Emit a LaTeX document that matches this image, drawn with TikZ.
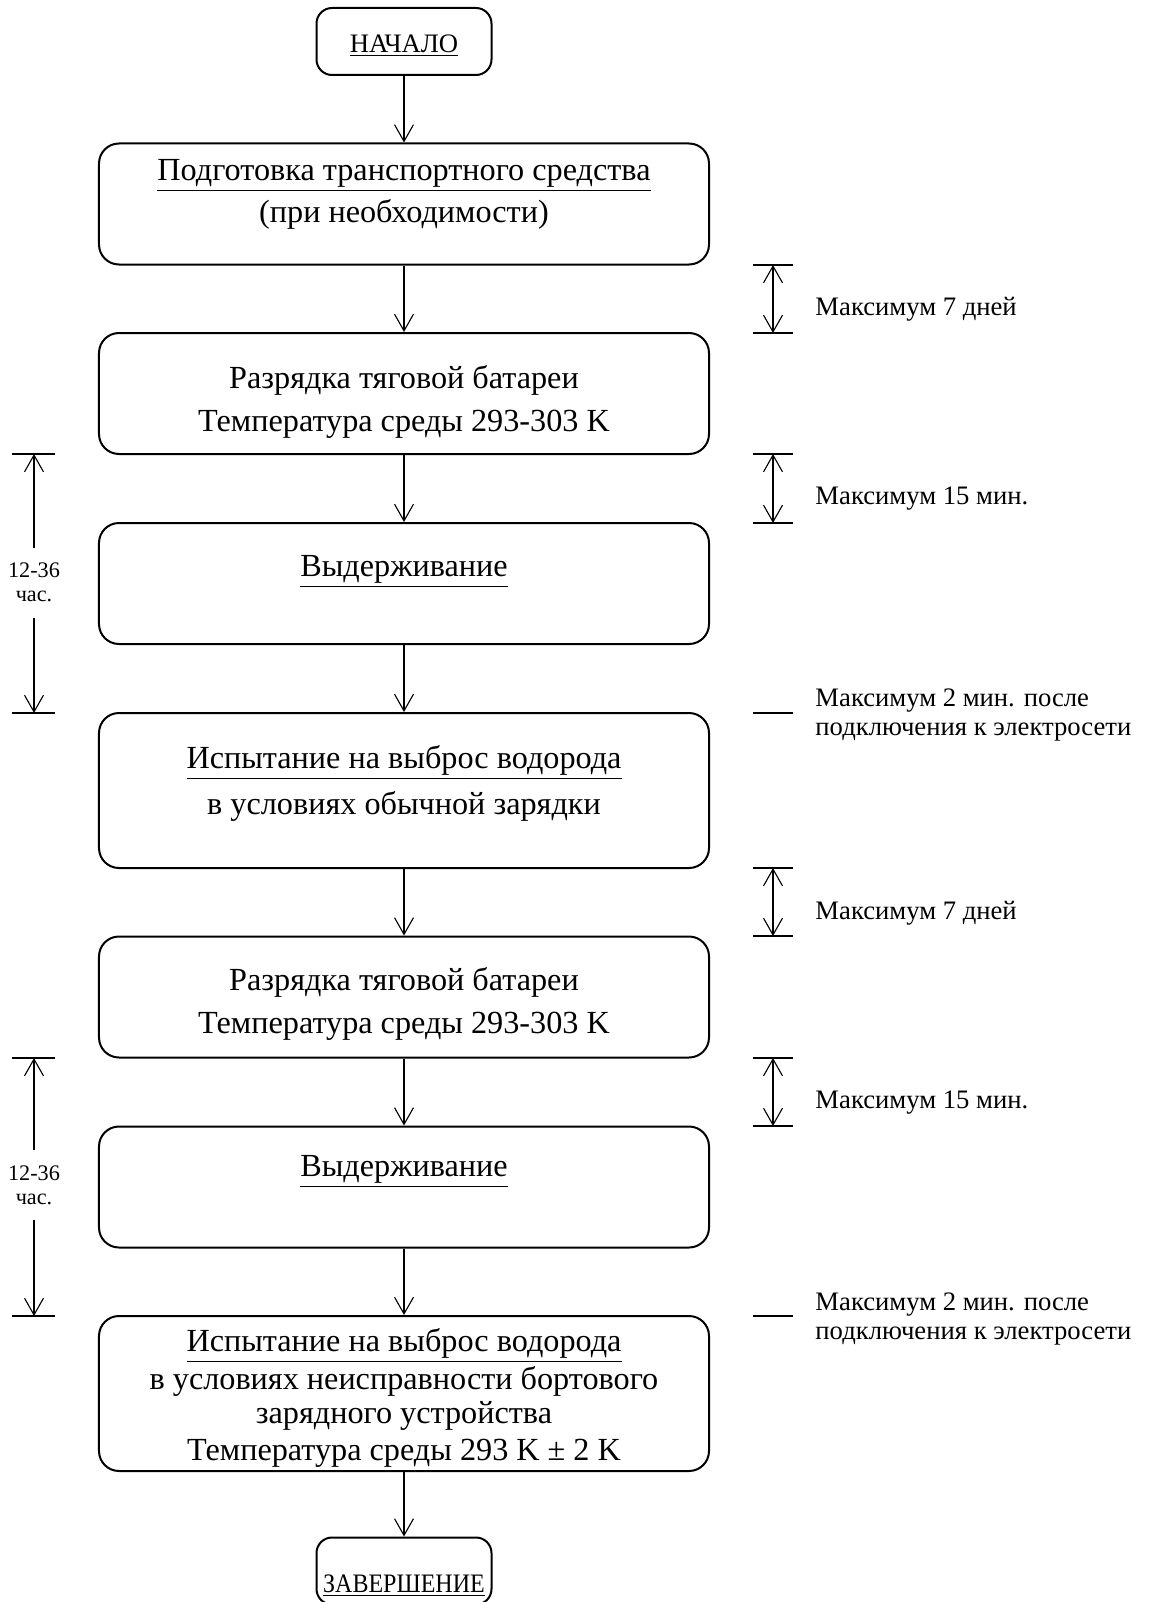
\documentclass[tikz,border=0pt]{standalone}
\usepackage{fontspec}
\setmainfont{Liberation Serif}
\usetikzlibrary{arrows.meta}
\begin{document}
\begin{tikzpicture}[x=0.45pt,y=-0.45pt,
  box/.style={draw, line width=0.9pt, rounded corners=9pt, minimum width=274.5pt, minimum height=54.45pt, inner sep=0pt},
  bigbox/.style={box, minimum height=69.75pt},
  endbox/.style={draw, line width=0.9pt, rounded corners=7pt, minimum width=78.75pt, minimum height=30.15pt, inner sep=0pt},
  maintxt/.style={inner sep=0pt, font=\fontsize{14.5}{17}\selectfont},
  endtxt/.style={inner sep=0pt, font=\fontsize{12}{14}\selectfont},
  sidetxt/.style={inner sep=0pt, anchor=west, font=\fontsize{12}{14}\selectfont},
  lefttxt/.style={inner sep=0pt, font=\fontsize{10}{12}\selectfont},
  arr/.style={line width=0.5pt, -{Straight Barb[length=7.5pt,width=8.5pt]}},
  dim/.style={line width=0.5pt, {Straight Barb[length=7.5pt,width=8.5pt]}-{Straight Barb[length=7.5pt,width=8.5pt]}},
  tickline/.style={line width=0.8pt}
]
\useasboundingbox (0,0) rectangle (1154,1602);
\clip (0,0) rectangle (1154,1602);

% boxes
\node[endbox] (start) at (404,41.5) {};
\node[box] (b1) at (404,204) {};
\node[box] (b2) at (404,393.5) {};
\node[box] (b3) at (404,583.5) {};
\node[bigbox] (b4) at (404,790.5) {};
\node[box] (b5) at (404,997) {};
\node[box] (b6) at (404,1187) {};
\node[bigbox] (b7) at (404,1393.5) {};
\node[endbox] (fin) at (404,1571) {};

% texts
\node[endtxt] (t0) at (404,46) {\underline{НАЧАЛО}};
\node[maintxt] (t1a) at (404,176) {\underline{Подготовка транспортного средства}};
\node[maintxt] (t1b) at (404,214) {(при необходимости)};
\node[maintxt] (t2a) at (404,380) {Разрядка тяговой батареи};
\node[maintxt] (t2b) at (404,424) {Температура среды 293-303 K};
\node[maintxt] (t3a) at (404,572) {\underline{Выдерживание}};
\node[maintxt] (t4a) at (404,763) {\underline{Испытание на выброс водорода}};
\node[maintxt] (t4b) at (404,806) {в условиях обычной зарядки};
\node[maintxt] (t5a) at (404,982) {Разрядка тяговой батареи};
\node[maintxt] (t5b) at (404,1026) {Температура среды 293-303 K};
\node[maintxt] (t6a) at (404,1172) {\underline{Выдерживание}};
\node[maintxt] (t7a) at (404,1346) {\underline{Испытание на выброс водорода}};
\node[maintxt] (t7b) at (404,1381) {в условиях неисправности бортового};
\node[maintxt] (t7c) at (404,1416) {зарядного устройства};
\node[maintxt] (t7d) at (404,1453) {Температура среды 293 K ± 2 K};
\node[endtxt] (t8) at (404,1586) {\underline{\scalebox{0.9}[1]{ЗАВЕРШЕНИЕ}}};

% main arrows
\draw[arr] (start) -- (b1);
\draw[arr] (b1) -- (b2);
\draw[arr] (b2) -- (b3);
\draw[arr] (b3) -- (b4);
\draw[arr] (b4) -- (b5);
\draw[arr] (b5) -- (b6);
\draw[arr] (b6) -- (b7);
\draw[arr] (b7) -- (fin);

% right side markers
\coordinate (r1a) at (773,265); \coordinate (r1b) at (773,333);
\coordinate (r2a) at (773,454); \coordinate (r2b) at (773,523);
\coordinate (r3) at (773,713);
\coordinate (r4a) at (773,868); \coordinate (r4b) at (773,936);
\coordinate (r5a) at (773,1058); \coordinate (r5b) at (773,1126);
\coordinate (r6) at (773,1316);
\foreach \c in {r1a,r1b,r2a,r2b,r3,r4a,r4b,r5a,r5b,r6}
  \draw[tickline] ([xshift=-9pt]\c) -- ([xshift=9pt]\c);
\draw[dim] (r1a) -- (r1b);
\draw[dim] (r2a) -- (r2b);
\draw[dim] (r4a) -- (r4b);
\draw[dim] (r5a) -- (r5b);

\node[sidetxt] (s1) at (815,309) {Максимум 7 дней};
\node[sidetxt] (s2) at (815,499) {Максимум 15 мин.};
\node[sidetxt] (s3a) at (815,701) {Максимум 2 мин. после};
\node[sidetxt] (s3b) at (815,732) {подключения к электросети};
\node[sidetxt] (s4) at (815,913) {Максимум 7 дней};
\node[sidetxt] (s5) at (815,1103) {Максимум 15 мин.};
\node[sidetxt] (s6a) at (815,1305) {Максимум 2 мин. после};
\node[sidetxt] (s6b) at (815,1336) {подключения к электросети};

% left side markers
\coordinate (l1a) at (34,454); \coordinate (l1b) at (34,713);
\coordinate (l2a) at (34,1058); \coordinate (l2b) at (34,1316);
\coordinate (l1u) at (34,548); \coordinate (l1d) at (34,618);
\coordinate (l2u) at (34,1150); \coordinate (l2d) at (34,1220);
\foreach \c in {l1a,l1b,l2a,l2b}
  \draw[tickline] ([xshift=-9.9pt]\c) -- ([xshift=9.5pt]\c);
\draw[arr] (l1u) -- (l1a);
\draw[arr] (l1d) -- (l1b);
\draw[arr] (l2u) -- (l2a);
\draw[arr] (l2d) -- (l2b);
\node[lefttxt] (lt1a) at (34,570) {12-36};
\node[lefttxt] (lt1b) at (34,596) {час.};
\node[lefttxt] (lt2a) at (34,1173) {12-36};
\node[lefttxt] (lt2b) at (34,1199) {час.};
\end{tikzpicture}
\end{document}
